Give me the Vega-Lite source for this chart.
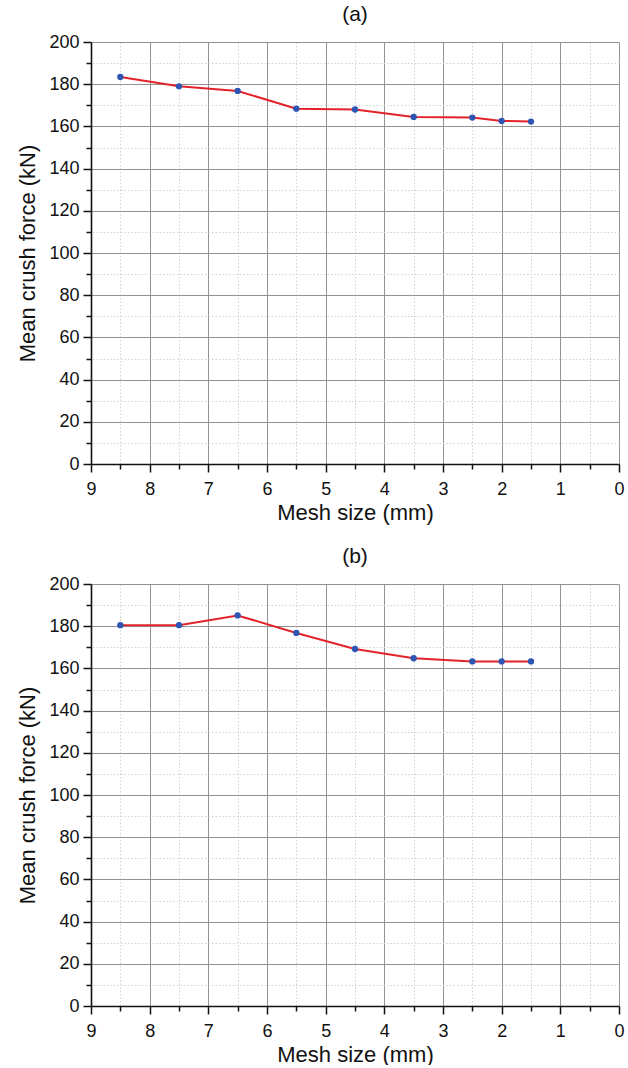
{
  "$schema": "https://vega.github.io/schema/vega-lite/v6.json",
  "padding": {"left": 16, "top": 4, "right": 6, "bottom": 0},
  "spacing": 23,
  "config": {
    "font": "Liberation Sans",
    "view": {"stroke": null},
    "title": {"font": "Liberation Sans", "fontSize": 21, "fontWeight": "normal", "color": "#111", "offset": 8},
    "axis": {
      "labelFont": "Liberation Sans",
      "labelFontSize": 18,
      "labelColor": "#111",
      "titleFont": "Liberation Sans",
      "titleFontSize": 22,
      "titleFontWeight": "normal",
      "titleColor": "#111",
      "domainColor": "#111",
      "domainWidth": 1.6,
      "tickColor": "#111",
      "tickWidth": 1.5,
      "labelFlush": false,
      "labelOverlap": false,
      "format": "d",
      "grid": true,
      "gridWidth": 1
    }
  },
  "datasets": {
    "meshA": [
      {"mesh": 8.5, "force": 183.4},
      {"mesh": 7.5, "force": 179.0},
      {"mesh": 6.5, "force": 176.8},
      {"mesh": 5.5, "force": 168.4},
      {"mesh": 4.5, "force": 168.0},
      {"mesh": 3.5, "force": 164.5},
      {"mesh": 2.5, "force": 164.2},
      {"mesh": 2.0, "force": 162.6},
      {"mesh": 1.5, "force": 162.3}
    ],
    "meshB": [
      {"mesh": 8.5, "force": 180.5},
      {"mesh": 7.5, "force": 180.5},
      {"mesh": 6.5, "force": 185.1},
      {"mesh": 5.5, "force": 176.8},
      {"mesh": 4.5, "force": 169.2},
      {"mesh": 3.5, "force": 164.8},
      {"mesh": 2.5, "force": 163.3},
      {"mesh": 2.0, "force": 163.3},
      {"mesh": 1.5, "force": 163.3}
    ]
  },
  "vconcat": [
    {
      "title": "(a)",
      "width": 528,
      "height": 422,
      "data": {"name": "meshA"},
      "encoding": {
        "x": {
          "field": "mesh", "type": "quantitative",
          "scale": {"domain": [0, 9], "reverse": true, "nice": false},
          "axis": {
            "title": "Mesh size (mm)",
            "values": [0, 0.5, 1, 1.5, 2, 2.5, 3, 3.5, 4, 4.5, 5, 5.5, 6, 6.5, 7, 7.5, 8, 8.5, 9],
            "labelExpr": "datum.value % 1 === 0 ? datum.label : ''",
            "gridColor": {"condition": {"test": "datum.value % 1 === 0", "value": "#939393"}, "value": "#d2d2d2"},
            "gridDash": {"condition": {"test": "datum.value % 1 === 0", "value": []}, "value": [1.5, 2]},
            "tickSize": {"condition": {"test": "datum.value % 1 === 0", "value": 8}, "value": 5},
            "labelPadding": 8,
            "titlePadding": 4
          }
        },
        "y": {
          "field": "force", "type": "quantitative",
          "scale": {"domain": [0, 200], "nice": false},
          "axis": {
            "title": "Mean crush force (kN)",
            "values": [0, 10, 20, 30, 40, 50, 60, 70, 80, 90, 100, 110, 120, 130, 140, 150, 160, 170, 180, 190, 200],
            "labelExpr": "datum.value % 20 === 0 ? datum.label : ''",
            "gridColor": {"condition": {"test": "datum.value % 20 === 0", "value": "#939393"}, "value": "#d2d2d2"},
            "gridDash": {"condition": {"test": "datum.value % 20 === 0", "value": []}, "value": [1.5, 2]},
            "tickSize": {"condition": {"test": "datum.value % 20 === 0", "value": 8}, "value": 5},
            "labelPadding": 4,
            "titlePadding": 9
          }
        }
      },
      "layer": [
        {"mark": {"type": "line", "color": "#e3232a", "strokeWidth": 2}},
        {"mark": {"type": "point", "filled": true, "color": "#2f55b2", "size": 40, "opacity": 1}}
      ]
    },
    {
      "title": "(b)",
      "width": 528,
      "height": 422,
      "data": {"name": "meshB"},
      "encoding": {
        "x": {
          "field": "mesh", "type": "quantitative",
          "scale": {"domain": [0, 9], "reverse": true, "nice": false},
          "axis": {
            "title": "Mesh size (mm)",
            "values": [0, 0.5, 1, 1.5, 2, 2.5, 3, 3.5, 4, 4.5, 5, 5.5, 6, 6.5, 7, 7.5, 8, 8.5, 9],
            "labelExpr": "datum.value % 1 === 0 ? datum.label : ''",
            "gridColor": {"condition": {"test": "datum.value % 1 === 0", "value": "#939393"}, "value": "#d2d2d2"},
            "gridDash": {"condition": {"test": "datum.value % 1 === 0", "value": []}, "value": [1.5, 2]},
            "tickSize": {"condition": {"test": "datum.value % 1 === 0", "value": 8}, "value": 5},
            "labelPadding": 8,
            "titlePadding": 4
          }
        },
        "y": {
          "field": "force", "type": "quantitative",
          "scale": {"domain": [0, 200], "nice": false},
          "axis": {
            "title": "Mean crush force (kN)",
            "values": [0, 10, 20, 30, 40, 50, 60, 70, 80, 90, 100, 110, 120, 130, 140, 150, 160, 170, 180, 190, 200],
            "labelExpr": "datum.value % 20 === 0 ? datum.label : ''",
            "gridColor": {"condition": {"test": "datum.value % 20 === 0", "value": "#939393"}, "value": "#d2d2d2"},
            "gridDash": {"condition": {"test": "datum.value % 20 === 0", "value": []}, "value": [1.5, 2]},
            "tickSize": {"condition": {"test": "datum.value % 20 === 0", "value": 8}, "value": 5},
            "labelPadding": 4,
            "titlePadding": 9
          }
        }
      },
      "layer": [
        {"mark": {"type": "line", "color": "#e3232a", "strokeWidth": 2}},
        {"mark": {"type": "point", "filled": true, "color": "#2f55b2", "size": 40, "opacity": 1}}
      ]
    }
  ]
}
